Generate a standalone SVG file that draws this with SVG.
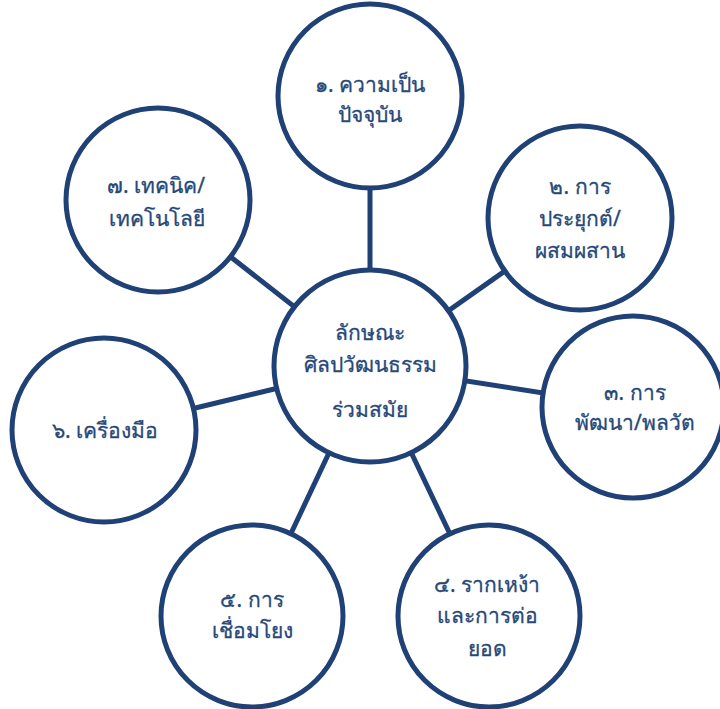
<svg xmlns="http://www.w3.org/2000/svg" width="720" height="709" viewBox="0 0 720 709">
<style>
.c{fill:#fff;stroke:#1F4176;stroke-width:5}
.l{stroke:#1F4176;stroke-width:5;fill:none}
text{font-family:"Noto Sans","DejaVu Sans",Tahoma,sans-serif;font-size:21px;fill:#264878;stroke:#264878;stroke-width:0.3;text-anchor:middle}
</style>
<rect width="720" height="709" fill="#fff"/>
<g id="connectors">
<line class="l" x1="370" y1="366" x2="370" y2="96"/>
<line class="l" x1="370" y1="366" x2="580" y2="218"/>
<line class="l" x1="370" y1="366" x2="633" y2="407"/>
<line class="l" x1="370" y1="366" x2="489" y2="616"/>
<line class="l" x1="370" y1="366" x2="252" y2="616"/>
<line class="l" x1="370" y1="366" x2="104" y2="430"/>
<line class="l" x1="370" y1="366" x2="158" y2="200"/>
</g>
<g id="center">
<circle class="c" cx="370" cy="366" r="96"/>
<text x="370" y="340">ลักษณะ</text>
<text x="370" y="372">ศิลปวัฒนธรรม</text>
<text x="370" y="417">ร่วมสมัย</text>
</g>
<g id="n1">
<circle class="c" cx="370" cy="96" r="92"/>
<text x="370" y="92">๑. ความเป็น</text>
<text x="370" y="122">ปัจจุบัน</text>
</g>
<g id="n2">
<circle class="c" cx="580" cy="218" r="92"/>
<text x="580" y="194">๒. การ</text>
<text x="580" y="226">ประยุกต์/</text>
<text x="580" y="258">ผสมผสาน</text>
</g>
<g id="n3">
<circle class="c" cx="633" cy="407" r="91"/>
<text x="635" y="400">๓. การ</text>
<text x="635" y="430">พัฒนา/พลวัต</text>
</g>
<g id="n4">
<circle class="c" cx="489" cy="616" r="91"/>
<text x="487" y="592">๔. รากเหง้า</text>
<text x="487" y="623">และการต่อ</text>
<text x="487" y="656">ยอด</text>
</g>
<g id="n5">
<circle class="c" cx="252" cy="616" r="91"/>
<text x="252" y="607">๕. การ</text>
<text x="252" y="638">เชื่อมโยง</text>
</g>
<g id="n6">
<circle class="c" cx="104" cy="430" r="92"/>
<text x="105" y="438">๖. เครื่องมือ</text>
</g>
<g id="n7">
<circle class="c" cx="158" cy="200" r="92"/>
<text x="156" y="193">๗. เทคนิค/</text>
<text x="157" y="226">เทคโนโลยี</text>
</g>
</svg>
